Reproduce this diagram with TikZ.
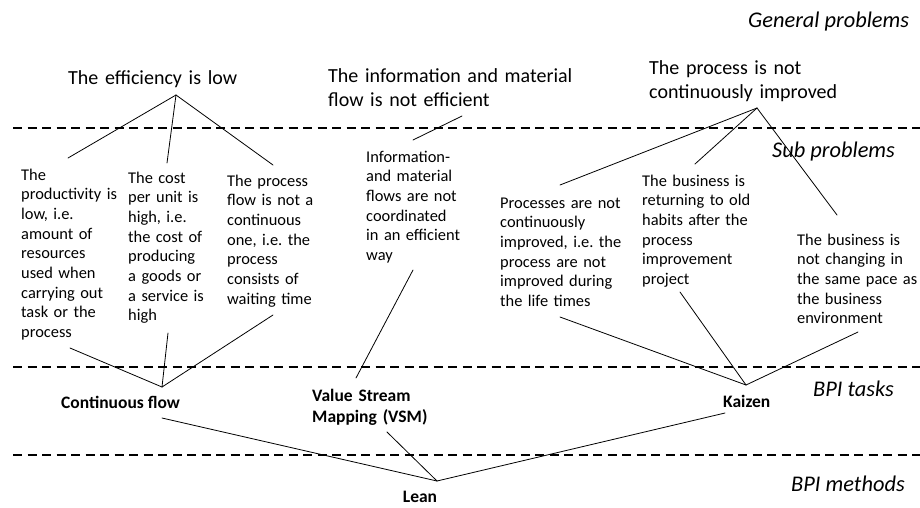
\documentclass[tikz,border=0pt]{standalone}
\usepackage{fontspec}
\setmainfont{Carlito}
\frenchspacing
\begin{document}
\begin{tikzpicture}[x=1pt, y=-1pt, line join=round, line cap=round]
	\tikzset{general/.style={anchor=base west, inner sep=0pt, align=left, text width=260pt, font=\fontsize{20}{24.4}\selectfont},
		sub/.style={anchor=base west, inner sep=0pt, align=left, text width=150pt, font=\fontsize{16.4}{19.7}\selectfont},
		task/.style={anchor=base west, inner sep=0pt, align=left, font=\fontsize{17.5}{21}\selectfont\bfseries},
		level/.style={anchor=base west, inner sep=0pt, font=\fontsize{22.4}{26}\selectfont\itshape},
		sep/.style={line width=1.6pt, dash pattern=on 9pt off 5.5pt, line cap=butt},
		link/.style={line width=0.8pt}}
	\useasboundingbox (0,0) rectangle (920,507);
	\foreach \y in {128,367,455} \draw[sep] (13,\y)--(920,\y);
	\node[level] (gen-lab) at (748,27) {General problems};
	\node[level] (sub-lab) at (772,157) {Sub problems};
	\node[level] (task-lab) at (813,396) {BPI tasks};
	\node[level] (meth-lab) at (791,491) {BPI methods};
	\node[general] (eff) at (68,84) {The efficiency is low};
	\node[general] (flow) at (328,82) {The information and material\\flow is not efficient};
	\node[general] (impr) at (649,74) {The process is not\\continuously improved};
	\node[sub] (prod) at (21,180) {The\\productivity is\\low, i.e.\\amount of\\resources\\used when\\carrying out\\task or the\\process};
	\node[sub] (cost) at (128,183) {The cost\\per unit is\\high, i.e.\\the cost of\\producing\\a goods or\\a service is\\high};
	\node[sub] (wait) at (227,186) {The process\\flow is not a\\continuous\\one, i.e. the\\process\\consists of\\waiting time};
	\node[sub] (coord) at (366,162) {Information-\\and material\\flows are not\\coordinated\\in an efficient\\way};
	\node[sub] (life) at (500,208) {Processes are not\\continuously\\improved, i.e. the\\process are not\\improved during\\the life times};
	\node[sub] (habit) at (642,186) {The business is\\returning to old\\habits after the\\process\\improvement\\project};
	\node[sub] (pace) at (797,245) {The business is\\not changing in\\the same pace as\\the business\\environment};
	\node[task] (cflow) at (61,408) {Continuous flow};
	\node[task, text width=130pt] (vsm) at (312,401) {Value Stream\\Mapping (VSM)};
	\node[task] (kaizen) at (723,407) {Kaizen};
	\node[task, anchor=base] (lean) at (420,502) {Lean};
	\coordinate (eff-j) at (176,95);
	\coordinate (flow-j) at (462,116);
	\coordinate (impr-j) at (757,108);
	\coordinate (prod-t) at (68,158);   \coordinate (prod-b) at (70,348);
	\coordinate (cost-t) at (167,163);  \coordinate (cost-b) at (168,333);
	\coordinate (wait-t) at (273,165);  \coordinate (wait-b) at (273,315);
	\coordinate (coord-t) at (413,140); \coordinate (coord-b) at (413,270);
	\coordinate (life-t) at (560,185);  \coordinate (life-b) at (560,317);
	\coordinate (habit-t) at (695,164); \coordinate (habit-b) at (680,292);
	\coordinate (pace-t) at (837,215);  \coordinate (pace-b) at (858,332);
	\coordinate (cflow-t) at (162,387); \coordinate (cflow-b) at (162,418);
	\coordinate (vsm-t) at (356,378);   \coordinate (vsm-b) at (387,432);
	\coordinate (kaizen-t) at (746,385); \coordinate (kaizen-b) at (725,413);
	\coordinate (lean-t) at (437,481);
	\foreach \s in {prod,cost,wait} {
		\draw[link] (eff-j)--(\s-t);
		\draw[link] (\s-b)--(cflow-t);
	}
	\draw[link] (flow-j)--(coord-t);
	\draw[link] (coord-b)--(vsm-t);
	\foreach \s in {life,habit,pace} {
		\draw[link] (impr-j)--(\s-t);
		\draw[link] (\s-b)--(kaizen-t);
	}
	\foreach \s in {cflow,vsm,kaizen} \draw[link] (\s-b)--(lean-t);
\end{tikzpicture}
\end{document}
